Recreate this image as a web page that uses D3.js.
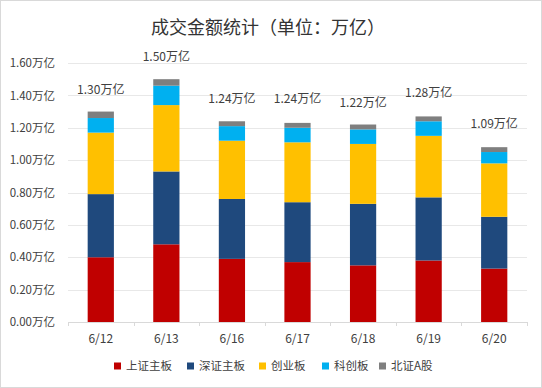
<!DOCTYPE html>
<html>
<head>
<meta charset="utf-8">
<script src="https://cdn.jsdelivr.net/npm/d3@7"></script>
<style>
  body { margin: 0; background: #fff; }
  svg text { font-family: "Noto Sans CJK SC", "Noto Sans", sans-serif; }
</style>
</head>
<body>
<div id="chart"></div>
<script>
// categories and series (万亿)
const days = ["6/12", "6/13", "6/16", "6/17", "6/18", "6/19", "6/20"];
const seriesNames = ["上证主板", "深证主板", "创业板", "科创板", "北证A股"];
const shMain = [0.40, 0.48, 0.39, 0.37, 0.35, 0.38, 0.33];
const szMain = [0.39, 0.45, 0.37, 0.37, 0.38, 0.39, 0.32];
const gem    = [0.38, 0.41, 0.36, 0.37, 0.37, 0.38, 0.33];
const star   = [0.09, 0.12, 0.09, 0.09, 0.09, 0.09, 0.07];
const bse    = [0.04, 0.04, 0.03, 0.03, 0.03, 0.03, 0.03];
const totals = [1.30, 1.50, 1.24, 1.24, 1.22, 1.28, 1.09];
const yTicks = [0, 0.2, 0.4, 0.6, 0.8, 1.0, 1.2, 1.4, 1.6];

const colors = ["#c00000", "#1f497d", "#ffc000", "#00b0f0", "#7f7f7f"];

const W = 542, H = 388;
const plot = {left: 68, right: 527, top: 63, bottom: 322};

const svg = d3.select("#chart").append("svg")
    .attr("width", W).attr("height", H);

// outer frame
svg.append("rect")
    .attr("x", 0.5).attr("y", 0.5)
    .attr("width", W - 1).attr("height", H - 1)
    .attr("fill", "#fff").attr("stroke", "#d9d9d9");

const x = d3.scaleBand().domain(days).range([plot.left, plot.right]).padding(0);
const y = d3.scaleLinear().domain([0, 1.6]).range([plot.bottom, plot.top]);
const barW = x.bandwidth() * 0.4;

// title
svg.append("text")
    .attr("x", 268).attr("y", 34)
    .attr("text-anchor", "middle")
    .attr("font-size", 18)
    .attr("fill", "#333")
    .text("成交金额统计（单位：万亿）");

// gridlines
svg.append("g").selectAll("line")
    .data(yTicks.slice(1))
    .join("line")
    .attr("x1", plot.left).attr("x2", plot.right)
    .attr("y1", d => Math.round(y(d)) + 0.5).attr("y2", d => Math.round(y(d)) + 0.5)
    .attr("stroke", "#e8e8e8");

// y axis labels
const yAxis = d3.axisLeft(y).tickValues(yTicks).tickSize(0).tickPadding(13)
    .tickFormat(d => d3.format(".2f")(d) + "万亿");
const yg = svg.append("g").attr("transform", `translate(${plot.left},0)`).call(yAxis);
yg.select(".domain").remove();
yg.selectAll("text").attr("font-size", 11.5).attr("fill", "#404040")
    .attr("font-family", "Noto Sans CJK SC, sans-serif");

// stacked bars
const rows = days.map((d, i) => ({
    day: d,
    "上证主板": shMain[i], "深证主板": szMain[i], "创业板": gem[i],
    "科创板": star[i], "北证A股": bse[i]
}));
const stack = d3.stack().keys(seriesNames)(rows);

svg.append("g").selectAll("g")
    .data(stack)
    .join("g")
    .attr("fill", (d, i) => colors[i])
    .selectAll("rect")
    .data(d => d)
    .join("rect")
    .attr("x", d => x(d.data.day) + (x.bandwidth() - barW) / 2)
    .attr("width", barW)
    .attr("y", d => y(d[1]))
    .attr("height", d => y(d[0]) - y(d[1]));

// x axis
const xAxis = d3.axisBottom(x).tickSize(0).tickPadding(12);
const xg = svg.append("g").attr("transform", `translate(0,${plot.bottom})`).call(xAxis);
xg.select(".domain").attr("stroke", "#d9d9d9");
xg.selectAll("text").attr("font-size", 12).attr("fill", "#404040")
    .attr("font-family", "Noto Sans CJK SC, sans-serif");
// category boundary ticks
const bounds = days.map(d => x(d)).concat([x(days[days.length - 1]) + x.bandwidth()]);
xg.selectAll(".bound")
    .data(bounds)
    .join("line")
    .attr("class", "bound")
    .attr("x1", d => Math.round(d) + 0.5).attr("x2", d => Math.round(d) + 0.5)
    .attr("y1", 0).attr("y2", 4)
    .attr("stroke", "#d9d9d9");

// total labels
svg.append("g").selectAll("text")
    .data(totals)
    .join("text")
    .attr("x", (d, i) => x(days[i]) + x.bandwidth() / 2)
    .attr("y", (d, i) => y(d) - 18)
    .attr("text-anchor", "middle")
    .attr("font-size", 12)
    .attr("fill", "#404040")
    .text(d => d3.format(".2f")(d) + "万亿");

// legend
const legendX = [114, 187, 259, 322, 379];
const lg = svg.append("g").attr("transform", "translate(0,366)");
const items = lg.selectAll("g")
    .data(seriesNames)
    .join("g")
    .attr("transform", (d, i) => `translate(${legendX[i]},0)`);
items.append("rect")
    .attr("x", 0).attr("y", -3.5)
    .attr("width", 7).attr("height", 7)
    .attr("fill", (d, i) => colors[i]);
items.append("text")
    .attr("x", 12).attr("y", 4)
    .attr("font-size", 11.5)
    .attr("fill", "#404040")
    .text(d => d);
</script>
</body>
</html>
